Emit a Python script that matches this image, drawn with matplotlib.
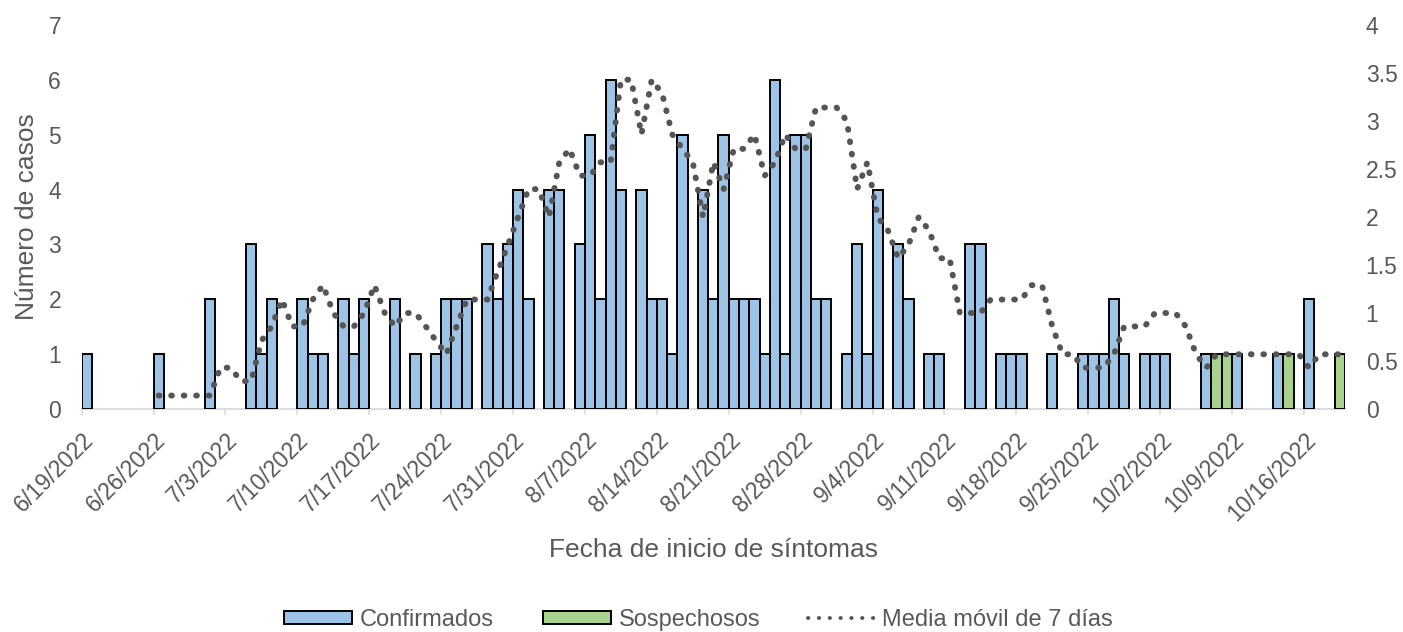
import matplotlib
matplotlib.use("Agg")
import matplotlib.pyplot as plt
import numpy as np
from matplotlib.patches import Patch
from matplotlib.lines import Line2D

plt.rcParams['font.family'] = ['Liberation Sans', 'DejaVu Sans']

# ---------------- data ----------------
# one value per day, starting 6/19/2022 (day 0) up to 10/19/2022 (day 122)
confirmados = [
    1, 0, 0, 0, 0, 0, 0, 1, 0, 0,
    0, 0, 2, 0, 0, 0, 3, 1, 2, 0,
    0, 2, 1, 1, 0, 2, 1, 2, 0, 0,
    2, 0, 1, 0, 1, 2, 2, 2, 0, 3,
    2, 3, 4, 2, 0, 4, 4, 0, 3, 5,
    2, 6, 4, 0, 4, 2, 2, 1, 5, 0,
    4, 2, 5, 2, 2, 2, 1, 6, 1, 5,
    5, 2, 2, 0, 1, 3, 1, 4, 0, 3,
    2, 0, 1, 1, 0, 0, 3, 3, 0, 1,
    1, 1, 0, 0, 1, 0, 0, 1, 1, 1,
    2, 1, 0, 1, 1, 1, 0, 0, 0, 1,
    0, 0, 1, 0, 0, 0, 1, 0, 0, 2,
    0, 0, 0,
]
sospechosos = [0] * 110 + [1, 1, 0, 0, 0, 0, 0, 1, 0, 0, 0, 0, 1]

# 7-day moving average (right axis), from 6/26/2022 (day 7) to day 122
media_movil = [
    0.14, 0.14, 0.14, 0.14, 0.14, 0.14,
    0.43, 0.43, 0.29, 0.29,
    0.71, 0.86, 1.14, 0.86, 0.86, 1.14, 1.29, 1.00, 0.86, 0.86,
    1.00, 1.29, 1.00, 0.86, 1.00, 1.00, 0.86, 0.71, 0.57, 0.86,
    1.14, 1.14, 1.14, 1.43, 1.71, 2.00, 2.29, 2.29, 2.00, 2.57,
    2.71, 2.43, 2.43, 2.57, 2.57, 3.43, 3.43, 2.86, 3.43, 3.29,
    2.86, 2.71, 2.57, 2.00, 2.57, 2.29, 2.71, 2.71, 2.86, 2.43,
    2.57, 2.86, 2.71, 2.71, 3.14, 3.14, 3.14, 3.00, 2.29, 2.57,
    2.00, 1.86, 1.57, 1.71, 2.00, 1.86, 1.57, 1.57, 1.00, 1.00,
    1.00, 1.14, 1.14, 1.14, 1.14, 1.29, 1.29, 0.86, 0.57, 0.57,
    0.43, 0.43, 0.43, 0.57, 0.86, 0.86, 0.86, 1.00, 1.00, 1.00,
    0.86, 0.57, 0.43, 0.57, 0.57, 0.57, 0.57, 0.57, 0.57, 0.57,
    0.57, 0.57, 0.43, 0.57, 0.57, 0.57,
]
ma_first_day = 7

tick_labels = ['6/19/2022', '6/26/2022', '7/3/2022', '7/10/2022', '7/17/2022',
               '7/24/2022', '7/31/2022', '8/7/2022', '8/14/2022', '8/21/2022',
               '8/28/2022', '9/4/2022', '9/11/2022', '9/18/2022', '9/25/2022',
               '10/2/2022', '10/9/2022', '10/16/2022']

# ---------------- style ----------------
BLUE = '#9DC3E6'
GREEN = '#A9D18E'
TXT = '#595959'
AXC = '#D9D9D9'
FS = 16.5      # tick labels
FS_LEG = 17    # legend
FS_TITLE = 19  # axis titles

fig = plt.figure(figsize=(14.03, 6.32), dpi=100)
L, R, B, T = 81.7 / 1403, 1345 / 1403, 1 - 409 / 632, 1 - 25 / 632
ax = fig.add_axes([L, B, R - L, T - B])
ax2 = ax.twinx()
ax.set_zorder(1)
ax2.set_zorder(2)
ax.patch.set_visible(False)
ax2.patch.set_visible(False)

n = len(confirmados)
days = np.arange(n)
conf = np.array(confirmados)
sosp = np.array(sospechosos)
mc = conf > 0
ms = sosp > 0
ax.bar(days[mc] + 0.5, conf[mc], width=1.0, color=BLUE, edgecolor='black',
       linewidth=1.4, zorder=2)
ax.bar(days[ms] + 0.5, sosp[ms], width=1.0, color=GREEN, edgecolor='black',
       linewidth=1.4, zorder=2)

# moving average on the secondary axis
mx = np.arange(ma_first_day, ma_first_day + len(media_movil)) + 0.5
ax2.plot(mx, media_movil, color='#555555', linewidth=4.3,
         linestyle=(0, (0.12, 1.97)), dash_capstyle='round', zorder=3)

# ---------------- axes ----------------
ax.set_xlim(0, n)
ax.set_ylim(0, 7)
ax2.set_ylim(0, 4)
ax.set_yticks(range(0, 8))
ax2.set_yticks(np.arange(0, 4.01, 0.5))
ax2.set_yticklabels(['0', '0.5', '1', '1.5', '2', '2.5', '3', '3.5', '4'])

for a in (ax, ax2):
    for s in ('top', 'left', 'right', 'bottom'):
        a.spines[s].set_visible(False)
ax.spines['bottom'].set_visible(True)
ax.spines['bottom'].set_color(AXC)
ax.spines['bottom'].set_linewidth(1.3)
ax.spines['bottom'].set_zorder(1)

ax.tick_params(axis='y', length=0, pad=14.9, labelsize=FS, labelcolor=TXT)
ax2.tick_params(axis='y', length=0, pad=14.9, labelsize=FS, labelcolor=TXT)
ax2.tick_params(axis='x', length=0, labelbottom=False)

ax.set_xticks(np.arange(0, 7 * len(tick_labels), 7))
ax.set_xticklabels(tick_labels, rotation=45, ha='right', va='top',
                   rotation_mode='anchor')
ax.tick_params(axis='x', direction='out', length=4.3, width=1.1, color=AXC,
               pad=10, labelsize=FS, labelcolor=TXT)

ax.set_xlabel('Fecha de inicio de síntomas', fontsize=FS_TITLE, color=TXT)
ax.xaxis.set_label_coords(0.5, -0.3367)
ax.set_ylabel('Número de casos', fontsize=FS_TITLE, color=TXT)
ax.yaxis.set_label_coords(-0.0338, 0.5)

# ---------------- legend ----------------
h1 = Patch(facecolor=BLUE, edgecolor='black', linewidth=1.4)
h2 = Patch(facecolor=GREEN, edgecolor='black', linewidth=1.4)
h3 = Line2D([], [], color='#555555', linewidth=2.8, linestyle=(0, (0.1, 2.68)),
            dash_capstyle='round')
fpx = FS_LEG * 100 / 72.0
ly = 1 - 620 / 632
for h, lab, x0, hl in ((h1, 'Confirmados', 284, 68), (h2, 'Sospechosos', 543, 68),
                       (h3, 'Media móvil de 7 días', 808, 66)):
    leg = fig.legend([h], [lab], loc='center left', bbox_to_anchor=(x0 / 1403, ly),
                     frameon=False, fontsize=FS_LEG, borderpad=0, borderaxespad=0,
                     handlelength=hl / fpx, handleheight=11.5 / fpx,
                     handletextpad=8 / fpx)
    for t in leg.get_texts():
        t.set_color(TXT)

fig.savefig('out.png', dpi=100)
